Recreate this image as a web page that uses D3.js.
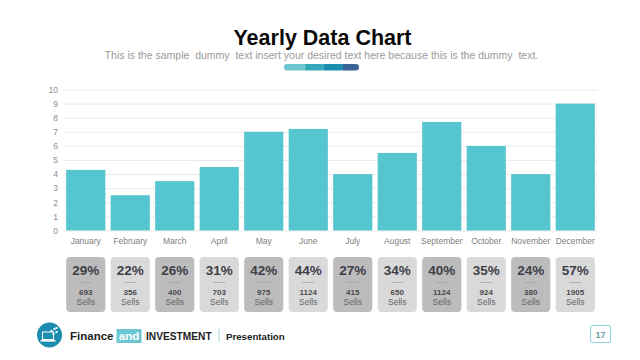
<!DOCTYPE html>
<html><head><meta charset="utf-8">
<style>html,body{margin:0;padding:0;background:#fff}svg{display:block}text{font-family:"Liberation Sans",Arial,sans-serif}</style>
<script src="https://cdn.jsdelivr.net/npm/d3@7/dist/d3.min.js"></script>
</head><body><div id="c"></div>
<script>
const months=["January","February","March","April","May","June","July","August","September","October","November","December"];
const values=[4.3,2.5,3.5,4.5,7,7.2,4,5.5,7.7,6,4,9];
const percents=["29%","22%","26%","31%","42%","44%","27%","34%","40%","35%","24%","57%"];
const sells=["693","356","400","703","975","1124","415","650","1124","924","380","1905"];
const yTicks=[0,1,2,3,4,5,6,7,8,9,10];
const barSegments=["#6cc7d2","#35a9bb","#1b8db0","#3a6494"];

const svg=d3.select("#c").append("svg").attr("width",640).attr("height",360);
const x=d3.scaleBand().domain(months).range([63.5,597.5]).paddingInner(0.12).paddingOuter(0.06);
const y=d3.scaleLinear().domain([0,10]).range([230.5,89.5]);

svg.append("text").attr("x",322.5).attr("y",45).attr("text-anchor","middle").attr("font-size",21.5).attr("font-weight","bold").attr("fill","#0a0a0a").text("Yearly Data Chart");
svg.append("text").attr("x",321.5).attr("y",59).attr("text-anchor","middle").attr("font-size",10.5).attr("fill","#9a9a9a").style("white-space","pre").text("This is the sample  dummy  text insert your desired text here because this is the dummy  text.");

const segX=d3.scaleBand().domain(d3.range(barSegments.length)).range([284,359]);
barSegments.slice().reverse().forEach((c,ri)=>{
  const i=barSegments.length-1-ri;
  svg.append("rect").attr("x",segX(i)).attr("y",64).attr("width",i===3?segX.bandwidth():segX.bandwidth()+3).attr("height",6.5).attr("rx",3.2).attr("fill",c);
});

const axisG=svg.append("g").attr("transform","translate(63.5,0)");
axisG.call(d3.axisLeft(y).tickValues(yTicks).tickSize(-534).tickFormat(d3.format("d")));
axisG.select(".domain").remove();
axisG.selectAll(".tick line").attr("stroke","#ebebeb").attr("stroke-width",1);
axisG.selectAll(".tick text").attr("x",-5.5).attr("fill","#8c8c8c").attr("font-size",8.5).style("font-family",'"Liberation Sans",Arial,sans-serif');

svg.selectAll("rect.bar").data(months).join("rect").attr("class","bar")
  .attr("x",d=>x(d)).attr("width",x.bandwidth())
  .attr("y",(d,i)=>y(values[i])).attr("height",(d,i)=>y(0)-y(values[i]))
  .attr("fill","#55c5cf");

const xg=svg.append("g").attr("transform","translate(0,230.5)");
xg.call(d3.axisBottom(x).tickSize(0).tickPadding(7));
xg.select(".domain").remove();
xg.selectAll(".tick text").attr("fill","#808080").attr("font-size",8.5).style("font-family",'"Liberation Sans",Arial,sans-serif');

const cards=svg.selectAll("g.card").data(months).join("g").attr("class","card")
  .attr("transform",d=>`translate(${x(d)},257)`);
const bw=x.bandwidth();
cards.append("rect").attr("width",bw).attr("height",55).attr("rx",4).attr("fill",(d,i)=>i%2===0?"#bcbcbc":"#d9d9d9");
cards.append("text").attr("x",bw/2).attr("y",18).attr("text-anchor","middle").attr("font-size",13.5).attr("font-weight","bold").attr("fill","#3f3f48").text((d,i)=>percents[i]);
cards.append("line").attr("x1",bw/2-6).attr("x2",bw/2+6).attr("y1",25.5).attr("y2",25.5).attr("stroke","#a0a0a0").attr("stroke-width",0.7);
cards.append("text").attr("x",bw/2).attr("y",38).attr("text-anchor","middle").attr("font-size",8).attr("font-weight","bold").attr("fill","#4a4a4a").text((d,i)=>sells[i]);
cards.append("text").attr("x",bw/2).attr("y",48).attr("text-anchor","middle").attr("font-size",8.5).attr("fill","#666").text("Sells");

// footer
const logo=svg.append("g").attr("transform","translate(49.5,335)");
logo.append("circle").attr("r",12.5).attr("fill","#1b8db0");
logo.append("rect").attr("x",-7).attr("y",-3).attr("width",11).attr("height",7.5).attr("fill","none").attr("stroke","#fff").attr("stroke-width",1);
logo.append("rect").attr("x",-9).attr("y",5).attr("width",15).attr("height",1.6).attr("fill","#fff");
logo.selectAll("rect.dot").data([[1,-5],[4,-7],[3,-2],[6,-4],[6,-8]]).join("rect").attr("class","dot")
  .attr("x",d=>d[0]).attr("y",d=>d[1]).attr("width",2).attr("height",2).attr("fill","#fff");

svg.append("text").attr("x",70).attr("y",340).attr("font-size",11.5).attr("font-weight","bold").attr("fill","#1d1d1d").text("Finance");
svg.append("rect").attr("x",116.5).attr("y",329).attr("width",25).attr("height",14).attr("fill","#6cc7d2");
svg.append("text").attr("x",129).attr("y",340).attr("text-anchor","middle").attr("font-size",11.5).attr("font-weight","bold").attr("fill","#fff").text("and");
svg.append("text").attr("x",146).attr("y",340).attr("font-size",10.2).attr("font-weight","bold").attr("fill","#1d1d1d").text("INVESTMENT");
svg.append("line").attr("x1",219).attr("x2",219).attr("y1",329).attr("y2",342).attr("stroke","#9fd8df").attr("stroke-width",1);
svg.append("text").attr("x",226).attr("y",340).attr("font-size",9.7).attr("font-weight","bold").attr("fill","#1d1d1d").text("Presentation");

svg.append("rect").attr("x",590.5).attr("y",325.5).attr("width",20).attr("height",17).attr("rx",1.5).attr("fill","#fff").attr("stroke","#8ed3da").attr("stroke-width",1);
svg.append("text").attr("x",600.5).attr("y",337.5).attr("text-anchor","middle").attr("font-size",9).attr("font-weight","bold").attr("fill","#6f9aa1").text("17");
</script></body></html>
